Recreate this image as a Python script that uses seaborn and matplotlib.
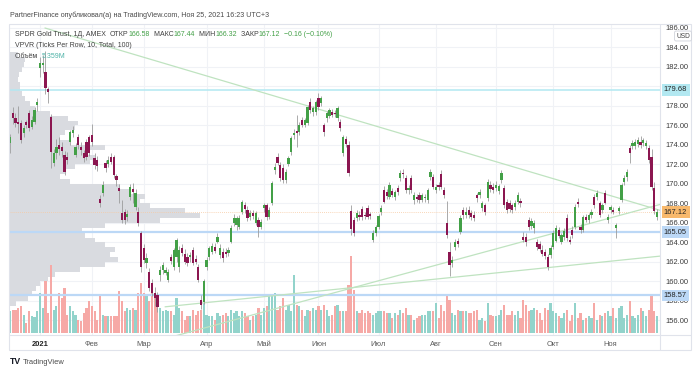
import numpy as np
import pandas as pd
import matplotlib
matplotlib.use("Agg")
import matplotlib.pyplot as plt
from matplotlib.lines import Line2D
from matplotlib.patches import Rectangle
from matplotlib.transforms import IdentityTransform
import seaborn as sns

# ---- daily candles, SPDR Gold Trust (GLD), 16 Dec 2020 .. 24 Nov 2021 ----
opens = [
    174.2, 177.3, 176.8, 176.4, 176.3, 175.2, 176.4, 177.3, 175.8, 176.4, 178.1,  # Dec
    181.9, 182.2, 181.5, 179.7, 176.9, 172.2, 173.2, 174.0, 173.8, 173.0, 172.8, 174.3, 175.2, 173.0,
    174.8, 173.8, 173.2, 174.3, 174.8,  # Jan
    175.0, 172.7, 172.5, 168.5, 169.1, 172.2, 172.0, 172.8, 172.8, 170.8, 169.6, 167.0, 167.1, 166.6,
    168.7, 169.5, 167.6, 167.1, 165.0,  # Feb
    163.4, 161.9, 161.0, 159.8, 158.8, 158.6, 160.7, 161.2, 160.9, 160.2, 162.5, 161.5, 162.5, 161.5,
    163.4, 162.8, 162.5, 162.5, 163.2, 162.3, 161.5, 158.1, 157.9,  # Mar
    161.5, 162.5, 163.0, 163.5, 164.1, 162.7, 163.0, 163.0, 162.9, 164.1, 166.0, 165.8, 165.6, 167.1,
    167.8, 167.3, 166.6, 167.0, 166.0, 166.3, 165.6,  # Apr
    167.5, 167.8, 166.6, 168.0, 171.4, 172.8, 171.9, 171.6, 170.4, 172.1, 173.3, 175.0, 175.4, 175.3,
    176.6, 176.1, 176.3, 178.4, 177.4, 177.4,  # May
    178.8, 178.3, 176.0, 176.8, 177.0, 177.4, 177.3, 176.8, 176.4, 173.2, 174.6, 174.0, 167.2, 166.3,
    166.5, 166.8, 167.4, 166.8, 167.5, 166.9, 164.3, 165.0,  # Jun
    165.6, 167.1, 169.4, 169.2, 168.7, 169.3, 168.7, 169.6, 170.6, 171.1, 170.6, 169.4, 170.6, 168.4,
    168.7, 168.9, 168.4, 168.6, 168.4, 170.7, 170.7,  # Jul
    169.4, 169.9, 171.0, 169.4, 166.0, 163.0, 161.9, 163.5, 164.2, 165.1, 167.3, 166.8, 167.3, 167.0,
    166.8, 168.9, 168.9, 167.5, 167.8, 168.6, 169.9, 169.7,  # Aug
    169.6, 169.3, 170.4, 169.6, 168.2, 168.0, 167.8, 167.6, 168.2, 168.3, 164.6, 164.6, 166.3, 165.7,
    165.5, 164.0, 163.8, 163.2, 163.0, 162.5, 162.7,  # Sep
    163.5, 164.2, 165.3, 164.1, 164.6, 166.5, 164.3, 165.3, 165.6, 168.2, 165.6, 165.3, 166.6, 166.3,
    166.8, 168.7, 168.7, 168.0, 167.3, 169.1, 166.3,  # Oct
    167.3, 167.3, 165.5, 167.2, 168.4, 170.2, 170.7, 173.7, 173.9, 173.9, 174.1, 174.3, 174.2, 173.9,
    173.7, 172.8, 169.6, 166.58,  # Nov
]
highs = [
    175.1, 177.9, 177.3, 178.0, 176.6, 176.0, 176.6, 177.6, 177.0, 177.9, 178.8,
    183.0, 183.2, 183.6, 179.9, 177.2, 173.6, 174.6, 174.8, 174.3, 173.4, 173.3, 175.5, 175.9, 174.2,
    175.1, 174.3, 173.5, 174.6, 175.0,
    176.2, 173.2, 172.9, 168.9, 170.3, 172.5, 172.9, 173.2, 173.0, 171.0, 170.0, 168.4, 167.4, 167.3,
    170.0, 170.1, 169.5, 167.6, 165.2,
    163.8, 162.9, 161.4, 160.3, 159.4, 158.9, 161.6, 162.0, 161.5, 161.3, 162.8, 163.4, 164.5, 163.6,
    163.8, 163.3, 162.9, 163.0, 163.5, 162.7, 161.8, 158.6, 160.3,
    162.5, 163.6, 163.9, 163.9, 165.0, 163.8, 163.4, 163.4, 163.5, 165.8, 166.9, 166.7, 166.8, 168.4,
    168.2, 167.7, 167.3, 167.3, 167.2, 166.6, 166.4,
    168.0, 168.1, 167.6, 170.3, 172.2, 173.2, 172.3, 172.0, 171.5, 172.9, 174.9, 175.6, 177.1, 176.4,
    176.9, 176.8, 178.1, 178.8, 178.0, 178.6,
    179.3, 179.0, 176.3, 177.5, 177.8, 177.7, 177.6, 178.0, 176.7, 175.0, 174.9, 174.4, 167.8, 166.6,
    167.3, 167.2, 167.7, 167.1, 167.8, 167.1, 165.3, 165.8,
    166.9, 167.8, 169.8, 169.5, 170.2, 169.6, 169.4, 169.9, 171.4, 171.5, 170.9, 169.9, 170.9, 169.2,
    169.0, 169.2, 169.1, 169.0, 169.6, 171.5, 171.0,
    170.0, 170.2, 171.4, 169.7, 168.3, 164.0, 162.6, 164.4, 164.5, 166.8, 167.6, 167.6, 167.7, 167.3,
    167.2, 169.1, 169.5, 168.3, 168.1, 170.5, 170.3, 170.1,
    170.3, 170.0, 171.4, 169.9, 168.5, 168.4, 168.1, 168.4, 169.2, 168.6, 165.1, 165.0, 166.6, 166.5,
    166.3, 164.4, 164.2, 163.7, 163.3, 162.8, 163.7,
    165.3, 165.8, 165.6, 165.0, 165.5, 166.9, 164.7, 165.7, 167.9, 168.6, 165.9, 166.8, 166.9, 167.0,
    167.4, 169.0, 169.4, 168.3, 168.0, 169.4, 166.9,
    167.8, 167.6, 166.0, 167.7, 170.1, 170.9, 171.5, 174.0, 174.5, 174.6, 174.8, 174.9, 174.7, 174.5,
    174.0, 173.6, 170.2, 167.44,
]
lows = [
    173.2, 176.2, 175.8, 175.2, 174.2, 174.8, 175.7, 175.4, 175.6, 176.2, 177.5,
    181.0, 181.4, 179.2, 178.3, 171.6, 171.8, 172.6, 173.0, 172.8, 170.9, 172.0, 174.0, 174.8, 172.8,
    173.6, 173.0, 172.3, 172.5, 172.9,
    173.9, 171.5, 171.3, 167.6, 168.8, 171.2, 171.7, 172.0, 170.6, 169.8, 168.1, 166.0, 165.9, 166.2,
    168.4, 168.0, 167.3, 165.7, 161.0,
    161.9, 161.4, 159.0, 158.5, 157.5, 156.9, 160.0, 160.8, 160.7, 159.9, 161.8, 161.2, 162.0, 161.0,
    162.6, 161.8, 161.6, 162.0, 161.7, 161.8, 159.9, 157.2, 157.7,
    161.2, 162.2, 162.8, 162.9, 163.9, 162.4, 162.0, 162.5, 162.6, 163.9, 165.7, 165.3, 165.4, 166.9,
    167.0, 166.2, 166.3, 166.4, 165.8, 164.6, 165.4,
    167.1, 166.3, 166.4, 167.8, 171.0, 171.9, 170.3, 170.1, 170.1, 171.8, 173.0, 174.6, 173.8, 175.0,
    175.8, 175.8, 176.1, 177.3, 177.0, 177.1,
    177.6, 178.0, 174.9, 176.4, 176.8, 176.9, 176.9, 176.5, 175.4, 172.9, 173.8, 170.8, 164.8, 164.7,
    166.2, 166.3, 166.3, 166.4, 166.4, 166.4, 164.0, 164.7,
    165.4, 166.8, 168.0, 168.5, 168.5, 168.7, 168.4, 168.9, 170.3, 170.6, 169.1, 169.0, 169.1, 167.9,
    168.2, 168.1, 168.2, 168.2, 168.1, 170.4, 169.5,
    169.1, 169.4, 169.5, 168.6, 164.5, 160.6, 161.5, 163.2, 163.5, 164.9, 166.4, 166.5, 166.5, 166.3,
    166.2, 168.2, 168.6, 167.2, 166.8, 168.3, 169.2, 169.1,
    169.3, 169.0, 170.1, 167.5, 167.0, 167.1, 167.0, 167.3, 167.9, 167.6, 164.0, 163.6, 165.3, 165.4,
    165.0, 163.2, 163.0, 162.6, 162.3, 161.2, 162.4,
    163.3, 164.0, 164.5, 163.8, 164.3, 164.2, 163.8, 164.5, 165.4, 167.6, 165.0, 165.1, 166.1, 166.0,
    166.5, 167.5, 168.4, 166.6, 167.0, 167.9, 166.0,
    167.0, 166.9, 164.5, 166.9, 168.2, 169.9, 170.3, 172.2, 173.6, 173.6, 173.8, 173.7, 173.9, 173.6,
    172.2, 169.4, 166.9, 166.32,
]
closes = [
    174.8, 176.8, 176.3, 176.2, 174.5, 175.7, 176.0, 175.7, 176.6, 177.6, 178.4,
    182.4, 182.4, 179.8, 179.4, 173.3, 173.2, 173.8, 173.6, 173.4, 171.2, 172.5, 175.3, 175.5, 173.8,
    174.0, 173.5, 172.7, 172.8, 173.2,
    174.3, 171.9, 171.8, 168.1, 169.9, 171.6, 172.5, 172.3, 170.9, 170.4, 169.3, 166.3, 166.3, 166.9,
    169.7, 169.2, 169.1, 166.0, 161.5,
    162.2, 162.4, 159.3, 158.8, 158.3, 157.4, 161.2, 161.7, 161.2, 161.0, 162.1, 163.2, 164.3, 163.2,
    162.9, 162.0, 161.9, 162.7, 161.9, 162.0, 160.2, 157.6, 160.0,
    162.2, 163.4, 163.6, 163.1, 164.6, 163.4, 162.4, 162.8, 163.2, 165.5, 166.5, 166.5, 166.5, 168.2,
    167.4, 166.5, 167.0, 166.7, 167.0, 165.6, 166.1,
    167.8, 166.6, 167.3, 170.1, 171.7, 172.2, 170.6, 170.4, 171.2, 172.7, 174.7, 175.2, 175.2, 176.1,
    176.1, 176.6, 177.9, 177.6, 177.8, 178.4,
    177.9, 178.8, 175.3, 177.3, 177.6, 177.1, 177.2, 177.8, 175.7, 174.8, 174.1, 171.1, 165.4, 165.0,
    167.0, 166.6, 166.6, 166.7, 166.6, 166.7, 165.0, 165.6,
    166.7, 167.5, 168.2, 168.8, 169.9, 168.9, 169.2, 169.2, 171.1, 171.0, 169.4, 169.6, 169.4, 168.9,
    168.5, 168.4, 168.9, 168.7, 169.4, 171.2, 169.7,
    169.7, 169.7, 169.7, 168.9, 164.8, 161.7, 162.2, 164.1, 163.8, 166.5, 166.8, 167.1, 166.8, 166.6,
    166.5, 168.6, 169.2, 168.0, 167.1, 170.2, 169.5, 169.4,
    169.9, 169.8, 171.1, 167.8, 167.3, 167.4, 167.3, 168.0, 168.9, 168.0, 164.3, 164.0, 165.6, 166.2,
    166.0, 163.5, 163.3, 162.8, 162.6, 161.5, 163.4,
    165.0, 165.5, 164.7, 164.8, 165.2, 164.5, 164.1, 164.8, 167.6, 167.9, 165.3, 166.6, 166.3, 166.8,
    167.1, 167.8, 169.1, 166.8, 167.8, 168.1, 166.6,
    167.6, 167.1, 165.8, 167.5, 169.9, 170.6, 171.2, 173.2, 174.2, 174.3, 174.5, 174.0, 174.5, 174.2,
    172.5, 169.7, 167.28, 167.12,
]
# volume, millions of shares
volumes = [
    7.0, 7.5, 7.5, 8.0, 8.5, 5.9, 3.2, 6.9, 5.3, 5.0, 6.9,
    12.8, 8.0, 16.5, 6.4, 21.9, 7.5, 8.5, 12.8, 11.2, 14.4, 5.9, 8.5, 6.9, 5.9, 4.3, 3.7, 6.4, 8.0, 10.1,
    8.5, 6.9, 4.3, 12.3, 5.9, 5.3, 5.3, 5.3, 5.3, 5.3, 13.3, 10.1, 6.9, 8.0, 7.5, 8.0, 7.5, 12.8, 16.0,
    12.8, 11.7, 10.1, 12.8, 11.7, 8.5, 8.0, 6.9, 7.5, 6.9, 6.9, 5.9, 11.2, 8.0, 6.9, 4.3, 5.3, 5.3, 7.5,
    5.9, 6.9, 7.5, 9.6,
    5.9, 5.3, 5.3, 4.3, 6.4, 5.3, 5.9, 6.4, 5.3, 7.5, 6.4, 6.9, 5.3, 6.9, 6.4, 5.3, 4.3, 5.3, 5.9, 8.0, 5.9,
    8.0, 8.5, 11.7, 12.3, 12.8, 7.5, 8.5, 11.2, 7.5, 9.1, 6.9, 18.7, 9.1, 8.5, 7.5, 5.3, 7.5, 6.9, 8.0, 7.5,
    8.5, 7.5, 9.1, 7.5, 5.3, 5.9, 8.5, 9.1, 6.9, 6.9, 6.9, 15.5, 24.5, 13.9, 6.9, 6.4, 7.5, 6.4, 6.9, 6.4,
    5.9, 6.4,
    6.9, 6.9, 6.9, 6.4, 6.4, 4.8, 6.4, 5.9, 7.5, 6.4, 8.0, 5.9, 5.9, 4.3, 4.8, 5.3, 5.9, 5.9, 6.9, 6.9, 6.9,
    9.6, 4.8, 9.1, 6.9, 12.3, 10.7, 6.4, 5.9, 7.5, 6.9, 6.9, 6.9, 6.4, 6.4, 6.9, 7.5, 4.3, 4.8, 3.7, 9.6,
    5.9, 5.3,
    5.3, 5.9, 7.5, 9.1, 5.9, 5.9, 6.9, 5.9, 6.9, 4.8, 10.7, 9.1, 6.9, 7.5, 8.0, 7.5, 6.4, 4.3, 8.0, 7.5, 9.6,
    6.9, 6.4, 5.3, 4.8, 6.4, 7.5, 3.7, 5.9, 9.6, 4.8, 6.4, 4.3, 4.8, 5.3, 4.8, 9.6, 4.3, 5.9, 5.3, 6.4, 6.9,
    5.3, 8.0, 4.8, 8.0, 8.5, 4.8, 5.9, 10.1, 5.3, 4.8, 5.9, 8.0, 6.9, 5.3, 7.5, 11.7, 6.9, 5.36,
]

holidays = ["2020-12-25", "2021-01-01", "2021-01-18", "2021-02-15", "2021-04-02",
            "2021-05-31", "2021-07-05", "2021-09-06"]
month_labels = ["2021", "Фев", "Мар", "Апр", "Май", "Июн", "Июл", "Авг", "Сен", "Окт", "Ноя"]

# volume profile (VPVR): price rows and their bar length in pixels
vp_prices = [157.75, 158.25, 158.75, 159.25, 159.75, 160.25, 160.75, 161.25, 161.75, 162.25,
             162.75, 163.25, 163.75, 164.25, 164.75, 165.25, 165.75, 166.25, 166.75, 167.25,
             167.75, 168.25, 168.75, 169.25, 169.75, 170.25, 170.75, 171.25, 171.75, 172.25,
             172.75, 173.25, 173.75, 174.25, 174.75, 175.25, 175.75, 176.25, 176.75, 177.25,
             177.75, 178.25, 178.75, 179.25, 179.75, 180.25, 180.75, 181.25, 181.75, 182.25,
             182.75, 183.25]
vp_widths = [6, 18, 22, 26, 30, 38, 45, 70, 95, 108,
             100, 105, 95, 85, 75, 72, 95, 150, 190, 175,
             140, 130, 135, 120, 110, 60, 50, 55, 65, 80,
             85, 78, 95, 60, 50, 55, 65, 68, 58, 40,
             25, 20, 15, 12, 10, 10, 8, 9, 12, 14,
             15, 8]

# drawn levels and trend lines (bar index, price)
levels = [179.68, 165.05, 158.57]
level_colors = ["#b2e8f1", "#bcd8f6", "#bcd8f6"]
level_widths = [1.1, 1.6, 1.6]
trend_start = [(1.8, 186.0), (44.0, 154.0), (45.8, 157.4)]
trend_end = [(227.1, 167.3), (227.1, 167.9), (227.1, 162.6)]
last_close = 167.12

# ---------------------------------------------------------------------------
dates = pd.bdate_range("2020-12-16", "2021-11-24")
dates = dates[~dates.isin(pd.to_datetime(holidays))]
xpos = np.arange(len(dates)) - 11  # 0 = first session of 2021
df = pd.DataFrame({"x": xpos, "open": opens, "high": highs, "low": lows,
                   "close": closes, "volume": volumes})
df["dir"] = np.where(df["close"] >= df["open"], "up", "down")
in2021 = dates.year == 2021
month_first = df[in2021].groupby(dates[in2021].month)["x"].min().values

sns.set_theme(style="white")
plt.rcParams["font.family"] = ["Liberation Sans", "DejaVu Sans"]

W, H = 699, 380
fig = plt.figure(figsize=(W / 100, H / 100), dpi=100)


def fx(x):
    return x / W


def fy(y):
    return 1 - y / H


rect = [fx(9), fy(335), fx(660) - fx(9), fy(24) - fy(335)]
XLIM = (-11.36, 227.1)
YLIM = (154.51, 186.41)
price_ticks = np.arange(156, 188, 2)

# background grid
ax_grid = fig.add_axes(rect)
ax_grid.set_xlim(XLIM)
ax_grid.set_ylim(YLIM)
ax_grid.set_yticks(price_ticks)
ax_grid.set_xticks(month_first)
ax_grid.grid(True, color="#f0f2f6", lw=0.8)
ax_grid.tick_params(length=0, labelbottom=False, labelleft=False)
for s in ax_grid.spines.values():
    s.set_visible(False)

# volume profile
ax_prof = fig.add_axes(rect)
ax_prof.barh(vp_prices, vp_widths, height=0.5, left=1, color="#d9dbe0", lw=0)
ax_prof.set_xlim(0, 651)
ax_prof.set_ylim(YLIM)
ax_prof.axis("off")
ax_prof.patch.set_alpha(0)

# volume bars
ax_vol = fig.add_axes(rect)
sns.barplot(data=df, x="x", y="volume", hue="dir", palette={"up": "#92d3cb", "down": "#f6a9a6"},
            native_scale=True, dodge=False, width=0.8, errorbar=None, saturation=1,
            legend=False, linewidth=0, ax=ax_vol)
ax_vol.set_xlim(XLIM)
ax_vol.set_ylim(-0.64, 98.9)
ax_vol.axis("off")
ax_vol.patch.set_alpha(0)

# candles
ax = fig.add_axes(rect)
ax.patch.set_alpha(0)
for p, c, w in zip(levels, level_colors, level_widths):
    ax.axhline(p, color=c, lw=w, zorder=1)
ax.axhline(last_close, color="#f7c9a0", lw=0.6, ls=(0, (1, 1.5)), zorder=1)
for (x0, y0), (x1, y1) in zip(trend_start, trend_end):
    ax.plot([x0, x1], [y0, y1], color="#bfe3c0", lw=0.9, zorder=1.2)

up = df["dir"] == "up"
ax.vlines(df["x"], df["low"], df["high"], color="#9c9c9c", lw=0.6, zorder=2)
body = (df["close"] - df["open"]).where((df["close"] - df["open"]).abs() > 0.07, 0.07)
ax.bar(df["x"], body, bottom=df["open"], width=0.82,
       color=np.where(up, "#43a047", "#8b1650"), lw=0, zorder=3)

ax.set_xlim(XLIM)
ax.set_ylim(YLIM)
ax.yaxis.tick_right()
ax.set_yticks(price_ticks)
# 180.00 sits under the 179.68 tag on the scale
ax.set_yticklabels(["" if v == 180 else f"{v:.2f}" for v in price_ticks])
ax.set_xticks(month_first)
ax.set_xticklabels(month_labels)
ax.tick_params(axis="y", length=0, pad=4, labelsize=5.4, labelcolor="#3a3a3a")
ax.tick_params(axis="x", length=0, pad=4, labelsize=5.4, labelcolor="#5a5a5a")
ax.get_xticklabels()[0].set_fontweight("bold")
ax.get_xticklabels()[0].set_color("#222222")
for s in ax.spines.values():
    s.set_visible(False)

# price labels on the scale
tag_colors = {179.68: "#b2e8f1", 165.05: "#bcd8f6", 158.57: "#bcd8f6", 167.12: "#f8b96d"}
for p, c in tag_colors.items():
    ax.text(1.006, p, f"{p:.2f}", transform=ax.get_yaxis_transform(), ha="left", va="center",
            fontsize=5.4, color="#222222", clip_on=False, zorder=6,
            bbox=dict(boxstyle="square,pad=0.32", fc=c, ec="none"))

# frame lines
frame_color = "#e0e3eb"
fig.add_artist(Rectangle((fx(9), fy(350)), fx(691) - fx(9), fy(24) - fy(350),
                         transform=fig.transFigure, fill=False, ec=frame_color, lw=0.8))
fig.add_artist(Line2D([fx(660), fx(660)], [fy(24), fy(350)], color=frame_color, lw=0.8))
fig.add_artist(Line2D([fx(9), fx(691)], [fy(335), fy(335)], color=frame_color, lw=0.8))

fig.text(fx(683), fy(36), "USD", ha="center", va="center", fontsize=4.8, color="#444444",
         bbox=dict(boxstyle="round,pad=0.22", fc="white", ec="#cfd2da", lw=0.6), zorder=7)

# header texts
fig.text(fx(10), fy(15), "PartnerFinance опубликовал(а) на TradingView.com, Ноя 25, 2021 16:23 UTC+3",
         fontsize=5.1, color="#4a4a4a", va="center")

renderer = fig.canvas.get_renderer()


def segments(x, y, parts, size=5.0):
    for s, col in parts:
        t = fig.text(x, H - y, s, transform=IdentityTransform(), fontsize=size, color=col,
                     va="center", ha="left", zorder=8)
        x += t.get_window_extent(renderer).width


dark = "#3f3f3f"
green = "#43a047"
segments(15, 34, [("SPDR Gold Trust, 1Д, AMEX  ", dark), ("ОТКР", dark), ("166.58", green),
                  ("  МАКС", dark), ("167.44", green), ("  МИН", dark), ("166.32", green),
                  ("  ЗАКР", dark), ("167.12", green), ("  −0.16 (−0.10%)", green)])
segments(15, 45.5, [("VPVR (Ticks Per Row, 10, Total, 100)", dark)])
segments(15, 57, [("Объём  ", dark), ("5.359M", "#4fb3a8")])

# footer logo
fig.text(fx(10), fy(362), "TV", fontsize=6.2, fontweight="bold", color="#131722", va="center")
fig.text(fx(23), fy(362), "TradingView", fontsize=5.4, color="#4a4a4a", va="center")

fig.savefig("out.png", dpi=100)
plt.close(fig)
